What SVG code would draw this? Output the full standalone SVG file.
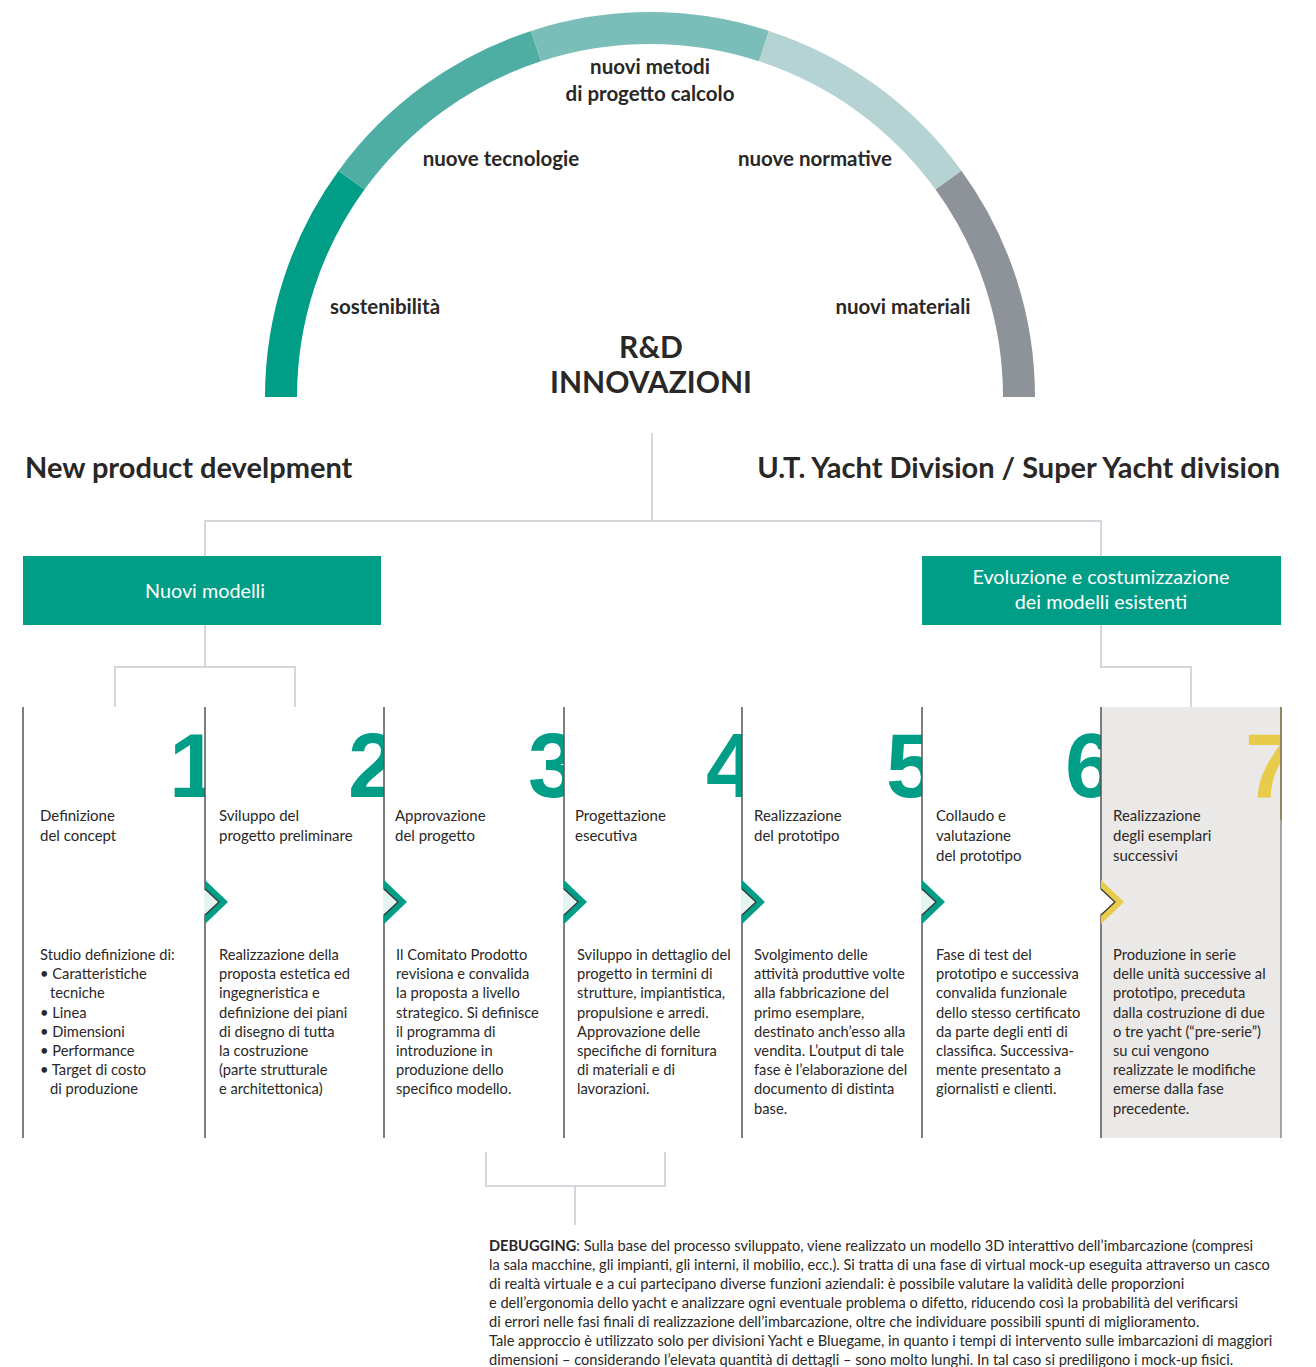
<svg xmlns="http://www.w3.org/2000/svg" width="1316" height="1367" viewBox="0 0 1316 1367">
<style>
  text { font-family: Lato, "Open Sans", "Liberation Sans", sans-serif; fill: #2A2727; }
  .arcl { font-size: 20.5px; font-weight: 700; text-anchor: middle; }
  .rd { font-size: 30px; font-weight: 700; text-anchor: middle; }
  .hd { font-size: 29px; font-weight: 700; }
  .box { fill: #009E87; }
  .boxt { font-size: 19.8px; fill: #FFFFFF; text-anchor: middle; }
  .conn { stroke: #D3D6DB; stroke-width: 2; fill: none; }
  .col { stroke: #555555; stroke-width: 1.5; }
  .num { font-family: "Liberation Sans", Arial, sans-serif; font-size: 90px; font-weight: 700; text-anchor: end; fill: #009E87; }
  .ttl { font-size: 15px; }
  .bdy { font-size: 14.7px; }
  .par { font-size: 14.6px; }
  .chev { fill: #009E87; }
  .notch { fill: #E4F4F1; stroke: none; }
  .nline { fill: none; stroke: #333333; stroke-width: 1.2; }
</style>
<defs>
  <clipPath id="c1"><rect x="23" y="700" width="182" height="150"/></clipPath>
  <clipPath id="c2"><rect x="205" y="700" width="179" height="150"/></clipPath>
  <clipPath id="c3"><rect x="384" y="700" width="180" height="150"/></clipPath>
  <clipPath id="c4"><rect x="564" y="700" width="178" height="150"/></clipPath>
  <clipPath id="c5"><rect x="742" y="700" width="180" height="150"/></clipPath>
  <clipPath id="c6"><rect x="922" y="700" width="179" height="150"/></clipPath>
  <clipPath id="c7"><rect x="1101" y="700" width="180" height="150"/></clipPath>
</defs>
<rect width="1316" height="1367" fill="#FFFFFF"/>

<g id="arc" fill="none" stroke-width="32">
  <path d="M 281 397 A 369 369 0 0 1 351.5 180.1" stroke="#009E87"/>
  <path d="M 351.5 180.1 A 369 369 0 0 1 536 46.1" stroke="#4FAEA4"/>
  <path d="M 536 46.1 A 369 369 0 0 1 764 46.1" stroke="#7BBEB9"/>
  <path d="M 764 46.1 A 369 369 0 0 1 948.5 180.1" stroke="#B6D3D3"/>
  <path d="M 948.5 180.1 A 369 369 0 0 1 1019 397" stroke="#8D9399"/>
</g>
<g id="arc-labels">
  <text class="arcl" x="650" y="74">nuovi metodi</text>
  <text class="arcl" x="650" y="101">di progetto calcolo</text>
  <text class="arcl" x="501" y="166">nuove tecnologie</text>
  <text class="arcl" x="815" y="166">nuove normative</text>
  <text class="arcl" x="385" y="314">sostenibilità</text>
  <text class="arcl" x="903" y="314">nuovi materiali</text>
</g>
<g id="rd">
  <text class="rd" x="651" y="358">R&amp;D</text>
  <text class="rd" x="651" y="393">INNOVAZIONI</text>
</g>

<g id="connectors">
  <path class="conn" d="M 652 433 V 521"/>
  <path class="conn" d="M 205 556 V 521 H 1101 V 556"/>
  <path class="conn" d="M 205 625 V 667 M 115 707 V 667 H 295 V 707"/>
  <path class="conn" d="M 1101 625 V 667 H 1191 V 707"/>
  <path class="conn" d="M 486 1152 V 1186 H 665 V 1152 M 575 1186 V 1225"/>
</g>

<g id="headings">
  <text class="hd" x="25" y="478">New product develpment</text>
  <text class="hd" x="1280" y="478" text-anchor="end">U.T. Yacht Division / Super Yacht division</text>
</g>

<g id="nuovi-modelli">
  <rect class="box" x="23" y="556" width="358" height="69"/>
  <text class="boxt" x="205" y="598">Nuovi modelli</text>
</g>
<g id="evoluzione">
  <rect class="box" x="922" y="556" width="359" height="69"/>
  <text class="boxt" x="1101" y="584">Evoluzione e costumizzazione</text>
  <text class="boxt" x="1101" y="609">dei modelli esistenti</text>
</g>

<g id="col7-bg">
  <rect x="1101" y="707" width="180" height="431" fill="#EAE9E7"/>
</g>

<g id="numbers">
  <text class="num" x="219" y="797" clip-path="url(#c1)">1</text>
  <text class="num" x="398" y="797" clip-path="url(#c2)">2</text>
  <text class="num" x="578" y="797" clip-path="url(#c3)">3</text>
  <text class="num" x="756" y="797" clip-path="url(#c4)">4</text>
  <text class="num" x="936" y="797" clip-path="url(#c5)">5</text>
  <text class="num" x="1115" y="797" clip-path="url(#c6)">6</text>
  <text class="num" x="1295" y="797" clip-path="url(#c7)" style="fill:#E8CB4A">7</text>
</g>

<g id="column-lines">
  <line class="col" x1="23" y1="707" x2="23" y2="1138"/>
  <line class="col" x1="205" y1="707" x2="205" y2="1138"/>
  <line class="col" x1="384" y1="707" x2="384" y2="1138"/>
  <line class="col" x1="564" y1="707" x2="564" y2="1138"/>
  <line class="col" x1="742" y1="707" x2="742" y2="1138"/>
  <line class="col" x1="922" y1="707" x2="922" y2="1138"/>
  <line class="col" x1="1101" y1="707" x2="1101" y2="1138"/>
  <line class="col" x1="1281" y1="707" x2="1281" y2="1138" style="stroke:#8A8A8A"/>
  <line x1="1281" y1="707" x2="1281" y2="820" stroke="#8A7B52" stroke-width="1.5"/>
</g>

<g id="chevrons">
  <g id="chev2">
    <polygon class="chev" points="205,880 228,902 205,924 205,915 219,902 205,889"/>
    <polygon class="notch" points="204,889 219,902 204,915"/>
    <polyline class="nline" points="205,889 219,902 205,915"/>
  </g>
  <g id="chev3">
    <polygon class="chev" points="384,880 407,902 384,924 384,915 398,902 384,889"/>
    <polygon class="notch" points="383,889 398,902 383,915"/>
    <polyline class="nline" points="384,889 398,902 384,915"/>
  </g>
  <g id="chev4">
    <polygon class="chev" points="564,880 587,902 564,924 564,915 578,902 564,889"/>
    <polygon class="notch" points="563,889 578,902 563,915"/>
    <polyline class="nline" points="564,889 578,902 564,915"/>
  </g>
  <g id="chev5">
    <polygon class="chev" points="742,880 765,902 742,924 742,915 756,902 742,889"/>
    <polygon class="notch" points="741,889 756,902 741,915"/>
    <polyline class="nline" points="742,889 756,902 742,915"/>
  </g>
  <g id="chev6">
    <polygon class="chev" points="922,880 945,902 922,924 922,915 936,902 922,889"/>
    <polygon class="notch" points="921,889 936,902 921,915"/>
    <polyline class="nline" points="922,889 936,902 922,915"/>
  </g>
  <g id="chev7">
    <polygon class="chev" points="1101,880 1124,902 1101,924 1101,915 1115,902 1101,889" style="fill:#E8CB4A"/>
    <polygon class="notch" points="1100,889 1115,902 1100,915" style="fill:#FFFFFF"/>
    <polyline class="nline" points="1101,889 1115,902 1101,915"/>
  </g>
</g>

<g id="step1">
  <text class="ttl" x="40" y="821">Definizione</text>
  <text class="ttl" x="40" y="841">del concept</text>
  <text class="bdy" x="40" y="960">Studio definizione di:</text>
  <text class="bdy" x="40" y="979">• Caratteristiche</text>
  <text class="bdy" x="50" y="998">tecniche</text>
  <text class="bdy" x="40" y="1018">• Linea</text>
  <text class="bdy" x="40" y="1037">• Dimensioni</text>
  <text class="bdy" x="40" y="1056">• Performance</text>
  <text class="bdy" x="40" y="1075">• Target di costo</text>
  <text class="bdy" x="50" y="1094">di produzione</text>
</g>
<g id="step2">
  <text class="ttl" x="219" y="821">Sviluppo del</text>
  <text class="ttl" x="219" y="841">progetto preliminare</text>
  <text class="bdy" x="219" y="960">Realizzazione della</text>
  <text class="bdy" x="219" y="979">proposta estetica ed</text>
  <text class="bdy" x="219" y="998">ingegneristica e</text>
  <text class="bdy" x="219" y="1018">definizione dei piani</text>
  <text class="bdy" x="219" y="1037">di disegno di tutta</text>
  <text class="bdy" x="219" y="1056">la costruzione</text>
  <text class="bdy" x="219" y="1075">(parte strutturale</text>
  <text class="bdy" x="219" y="1094">e architettonica)</text>
</g>
<g id="step3">
  <text class="ttl" x="395" y="821">Approvazione</text>
  <text class="ttl" x="395" y="841">del progetto</text>
  <text class="bdy" x="396" y="960">Il Comitato Prodotto</text>
  <text class="bdy" x="396" y="979">revisiona e convalida</text>
  <text class="bdy" x="396" y="998">la proposta a livello</text>
  <text class="bdy" x="396" y="1018">strategico. Si definisce</text>
  <text class="bdy" x="396" y="1037">il programma di</text>
  <text class="bdy" x="396" y="1056">introduzione in</text>
  <text class="bdy" x="396" y="1075">produzione dello</text>
  <text class="bdy" x="396" y="1094">specifico modello.</text>
</g>
<g id="step4">
  <text class="ttl" x="575" y="821">Progettazione</text>
  <text class="ttl" x="575" y="841">esecutiva</text>
  <text class="bdy" x="577" y="960">Sviluppo in dettaglio del</text>
  <text class="bdy" x="577" y="979">progetto in termini di</text>
  <text class="bdy" x="577" y="998">strutture, impiantistica,</text>
  <text class="bdy" x="577" y="1018">propulsione e arredi.</text>
  <text class="bdy" x="577" y="1037">Approvazione delle</text>
  <text class="bdy" x="577" y="1056">specifiche di fornitura</text>
  <text class="bdy" x="577" y="1075">di materiali e di</text>
  <text class="bdy" x="577" y="1094">lavorazioni.</text>
</g>
<g id="step5">
  <text class="ttl" x="754" y="821">Realizzazione</text>
  <text class="ttl" x="754" y="841">del prototipo</text>
  <text class="bdy" x="754" y="960">Svolgimento delle</text>
  <text class="bdy" x="754" y="979">attività produttive volte</text>
  <text class="bdy" x="754" y="998">alla fabbricazione del</text>
  <text class="bdy" x="754" y="1018">primo esemplare,</text>
  <text class="bdy" x="754" y="1037">destinato anch’esso alla</text>
  <text class="bdy" x="754" y="1056">vendita. L’output di tale</text>
  <text class="bdy" x="754" y="1075">fase è l’elaborazione del</text>
  <text class="bdy" x="754" y="1094">documento di distinta</text>
  <text class="bdy" x="754" y="1114">base.</text>
</g>
<g id="step6">
  <text class="ttl" x="936" y="821">Collaudo e</text>
  <text class="ttl" x="936" y="841">valutazione</text>
  <text class="ttl" x="936" y="861">del prototipo</text>
  <text class="bdy" x="936" y="960">Fase di test del</text>
  <text class="bdy" x="936" y="979">prototipo e successiva</text>
  <text class="bdy" x="936" y="998">convalida funzionale</text>
  <text class="bdy" x="936" y="1018">dello stesso certificato</text>
  <text class="bdy" x="936" y="1037">da parte degli enti di</text>
  <text class="bdy" x="936" y="1056">classifica. Successiva-</text>
  <text class="bdy" x="936" y="1075">mente presentato a</text>
  <text class="bdy" x="936" y="1094">giornalisti e clienti.</text>
</g>
<g id="step7">
  <text class="ttl" x="1113" y="821">Realizzazione</text>
  <text class="ttl" x="1113" y="841">degli esemplari</text>
  <text class="ttl" x="1113" y="861">successivi</text>
  <text class="bdy" x="1113" y="960">Produzione in serie</text>
  <text class="bdy" x="1113" y="979">delle unità successive al</text>
  <text class="bdy" x="1113" y="998">prototipo, preceduta</text>
  <text class="bdy" x="1113" y="1018">dalla costruzione di due</text>
  <text class="bdy" x="1113" y="1037">o tre yacht (“pre-serie”)</text>
  <text class="bdy" x="1113" y="1056">su cui vengono</text>
  <text class="bdy" x="1113" y="1075">realizzate le modifiche</text>
  <text class="bdy" x="1113" y="1094">emerse dalla fase</text>
  <text class="bdy" x="1113" y="1114">precedente.</text>
</g>

<g id="debugging">
  <text class="par" x="489" y="1251"><tspan font-weight="700">DEBUGGING</tspan>: Sulla base del processo sviluppato, viene realizzato un modello 3D interattivo dell’imbarcazione (compresi</text>
  <text class="par" x="489" y="1270">la sala macchine, gli impianti, gli interni, il mobilio, ecc.). Si tratta di una fase di virtual mock-up eseguita attraverso un casco</text>
  <text class="par" x="489" y="1289">di realtà virtuale e a cui partecipano diverse funzioni aziendali: è possibile valutare la validità delle proporzioni</text>
  <text class="par" x="489" y="1308">e dell’ergonomia dello yacht e analizzare ogni eventuale problema o difetto, riducendo così la probabilità del verificarsi</text>
  <text class="par" x="489" y="1327">di errori nelle fasi finali di realizzazione dell’imbarcazione, oltre che individuare possibili spunti di miglioramento.</text>
  <text class="par" x="489" y="1346">Tale approccio è utilizzato solo per divisioni Yacht e Bluegame, in quanto i tempi di intervento sulle imbarcazioni di maggiori</text>
  <text class="par" x="489" y="1365">dimensioni – considerando l’elevata quantità di dettagli – sono molto lunghi. In tal caso si prediligono i mock-up fisici.</text>
</g>
</svg>
